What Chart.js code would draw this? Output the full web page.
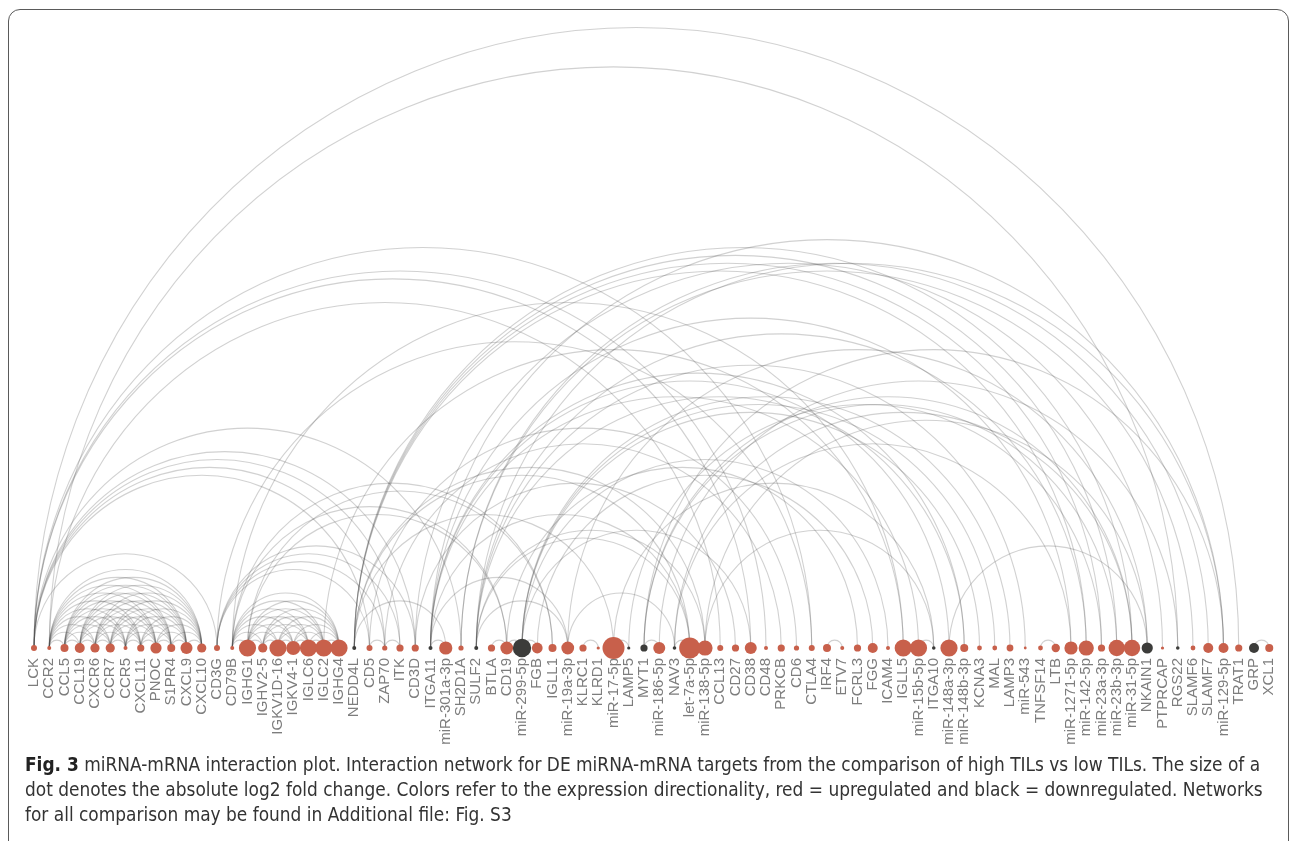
<!DOCTYPE html>
<html>
<head>
<meta charset="utf-8">
<title>miRNA-mRNA interaction plot</title>
<script src="https://cdn.jsdelivr.net/npm/chart.js@4.4.1/dist/chart.umd.min.js"></script>
<style>
  html, body { margin: 0; padding: 0; background: #fff; }
  body { width: 1295px; height: 841px; position: relative; overflow: hidden; }
  #frame { position: absolute; left: 8px; top: 9px; width: 1281px; height: 900px;
           border: 1.5px solid #5a5a5a; border-radius: 12px; box-sizing: border-box; }
  #c { position: absolute; left: 0; top: 0; }
  #caption { position: absolute; left: 25px; top: 752px; width: 1250px;
             font-family: "DejaVu Sans Condensed", "Liberation Sans", sans-serif;
             font-size: 18.9px; line-height: 25px; color: #333; white-space: nowrap; }
  #caption b { color: #222; }
</style>
</head>
<body>
<div id="frame"></div>
<canvas id="c" width="1295" height="760"></canvas>
<div id="caption"><b>Fig. 3</b> miRNA-mRNA interaction plot. Interaction network for DE miRNA-mRNA targets from the comparison of high TILs vs low TILs. The size of a<br>dot denotes the absolute log2 fold change. Colors refer to the expression directionality, red = upregulated and black = downregulated. Networks<br>for all comparison may be found in Additional file: Fig. S3</div>
<script>
// Nodes in plotting order along the axis
const nodes = [
  "LCK","CCR2","CCL5","CCL19","CXCR6","CCR7","CCR5","CXCL11","PNOC","S1PR4","CXCL9","CXCL10",
  "CD3G","CD79B","IGHG1","IGHV2-5","IGKV1D-16","IGKV4-1","IGLC6","IGLC2","IGHG4","NEDD4L",
  "CD5","ZAP70","ITK","CD3D","ITGA11","miR-301a-3p","SH2D1A","SULF2","BTLA","CD19",
  "miR-299-5p","FGB","IGLL1","miR-19a-3p","KLRC1","KLRD1","miR-17-5p","LAMP5","MYT1",
  "miR-186-5p","NAV3","let-7a-5p","miR-138-5p","CCL13","CD27","CD38","CD48","PRKCB","CD6",
  "CTLA4","IRF4","ETV7","FCRL3","FGG","ICAM4","IGLL5","miR-15b-5p","ITGA10","miR-148a-3p",
  "miR-148b-3p","KCNA3","MAL","LAMP3","miR-543","TNFSF14","LTB","miR-1271-5p","miR-142-5p",
  "miR-23a-3p","miR-23b-3p","miR-31-5p","NKAIN1","PTPRCAP","RGS22","SLAMF6","SLAMF7",
  "miR-129-5p","TRAT1","GRP","XCL1"
];

// log2 fold change (high vs low TILs); negative = downregulated
const log2FC = [
  1.5, 1.0, 2.0, 2.5, 2.3, 2.3, 1.0, 1.8, 2.8, 2.0, 3.0, 2.3,
  1.5, 1.0, 4.3, 2.3, 4.3, 3.5, 4.3, 4.3, 4.3, -1.0,
  1.5, 1.3, 1.8, 1.8, -1.0, 3.3, 1.3, -1.0, 1.8, 3.2,
  -4.6, 2.7, 2.0, 3.2, 1.8, 0.8, 5.5, -0.8, -1.8,
  3.0, -0.9, 5.3, 3.8, 1.5, 1.8, 3.0, 1.0, 1.8, 1.3,
  1.5, 2.0, 1.0, 1.8, 2.5, 1.0, 4.3, 4.3, -0.9, 4.3,
  2.0, 1.2, 1.2, 1.7, 0.7, 1.2, 2.1, 3.3, 3.8,
  1.8, 4.1, 4.1, -2.8, 0.8, -0.9, 1.2, 2.5,
  2.5, 1.8, -2.5, 2.0
];

// Chemokine / GPCR ligand-receptor interactions
const chemokineEdges = [
  ["CCR2","CCL5"],["CCR2","CCL19"],["CCR2","CXCR6"],["CCR2","CCR7"],["CCR2","CCR5"],["CCR2","CXCL11"],
  ["CCR2","PNOC"],["CCR2","S1PR4"],["CCR2","CXCL9"],["CCR2","CXCL10"],
  ["CCL5","CCL19"],["CCL5","CXCR6"],["CCL5","CCR7"],["CCL5","CCR5"],["CCL5","CXCL11"],["CCL5","PNOC"],
  ["CCL5","S1PR4"],["CCL5","CXCL9"],["CCL5","CXCL10"],
  ["CCL19","CXCR6"],["CCL19","CCR7"],["CCL19","CCR5"],["CCL19","CXCL11"],["CCL19","PNOC"],
  ["CCL19","S1PR4"],["CCL19","CXCL9"],["CCL19","CXCL10"],
  ["CXCR6","CCR7"],["CXCR6","CCR5"],["CXCR6","CXCL11"],["CXCR6","PNOC"],["CXCR6","S1PR4"],
  ["CXCR6","CXCL9"],["CXCR6","CXCL10"],
  ["CCR7","CCR5"],["CCR7","CXCL11"],["CCR7","PNOC"],["CCR7","S1PR4"],["CCR7","CXCL9"],["CCR7","CXCL10"],
  ["CCR5","CXCL11"],["CCR5","PNOC"],["CCR5","S1PR4"],["CCR5","CXCL9"],["CCR5","CXCL10"],
  ["CXCL11","PNOC"],["CXCL11","S1PR4"],["CXCL11","CXCL9"],["CXCL11","CXCL10"],
  ["PNOC","S1PR4"],["PNOC","CXCL9"],["PNOC","CXCL10"],
  ["S1PR4","CXCL9"],["S1PR4","CXCL10"],
  ["CXCL9","CXCL10"],
  ["CCR2","CCL13"],["CCR2","RGS22"]
];

// T-cell receptor signalling
const tcellEdges = [
  ["LCK","CD3G"],["LCK","CD5"],["LCK","ZAP70"],["LCK","ITK"],["LCK","CD3D"],["LCK","SH2D1A"],
  ["LCK","CD38"],["LCK","CD48"],["LCK","CTLA4"],["LCK","TRAT1"],
  ["CD3G","CD5"],["CD3G","ZAP70"],["CD3G","ITK"],["CD3G","CD3D"],["CD3G","CTLA4"],
  ["CD5","ZAP70"],["ZAP70","ITK"],["CD5","CD6"],["ZAP70","PRKCB"],["CD3D","CD27"],["CD3D","PTPRCAP"],
  ["SH2D1A","SLAMF6"],["SH2D1A","SLAMF7"]
];

// B-cell receptor and immunoglobulin genes
const bcellEdges = [
  ["CD79B","IGHG1"],["CD79B","IGHV2-5"],["CD79B","IGKV1D-16"],["CD79B","IGKV4-1"],["CD79B","IGLC6"],
  ["CD79B","IGLC2"],["CD79B","IGHG4"],
  ["IGHG1","IGHV2-5"],["IGHG1","IGKV1D-16"],["IGHG1","IGKV4-1"],["IGHG1","IGLC6"],["IGHG1","IGLC2"],["IGHG1","IGHG4"],
  ["IGHV2-5","IGKV1D-16"],["IGHV2-5","IGKV4-1"],["IGHV2-5","IGLC6"],["IGHV2-5","IGLC2"],["IGHV2-5","IGHG4"],
  ["IGKV1D-16","IGKV4-1"],["IGKV1D-16","IGLC6"],["IGKV1D-16","IGLC2"],["IGKV1D-16","IGHG4"],
  ["IGKV4-1","IGLC6"],["IGKV4-1","IGLC2"],["IGKV4-1","IGHG4"],
  ["IGLC6","IGLC2"],["IGLC6","IGHG4"],["IGLC2","IGHG4"],
  ["CD79B","CD19"],["CD79B","IGLL1"],["IGHG1","CD19"],["IGHG1","IGLL1"],["CD79B","IGLL5"],["IGLC2","IGLL5"],
  ["BTLA","CD19"],["CD19","FCRL3"]
];

// Other gene-gene interactions
const otherEdges = [
  ["KLRC1","KLRD1"],["FGB","FGG"],["IRF4","ETV7"],["TNFSF14","LTB"],["GRP","XCL1"]
];

// miRNA - target pairs
const mirnaEdges = [
  ["NEDD4L","miR-301a-3p"],["NEDD4L","miR-17-5p"],["NEDD4L","let-7a-5p"],["NEDD4L","miR-138-5p"],
  ["NEDD4L","miR-142-5p"],["NEDD4L","miR-23a-3p"],["NEDD4L","miR-23b-3p"],["NEDD4L","miR-31-5p"],
  ["ITGA11","miR-301a-3p"],["ITGA11","miR-19a-3p"],["ITGA11","let-7a-5p"],["ITGA11","miR-15b-5p"],
  ["ITGA11","miR-148a-3p"],["ITGA11","miR-148b-3p"],["ITGA11","miR-1271-5p"],["ITGA11","miR-129-5p"],
  ["SULF2","miR-19a-3p"],["SULF2","let-7a-5p"],["SULF2","miR-138-5p"],["SULF2","miR-148b-3p"],
  ["SULF2","miR-543"],["SULF2","miR-142-5p"],["SULF2","miR-129-5p"],
  ["LAMP5","miR-17-5p"],["LAMP5","miR-23a-3p"],
  ["MYT1","miR-186-5p"],["MYT1","miR-23b-3p"],["MYT1","miR-31-5p"],["MYT1","miR-129-5p"],
  ["NAV3","miR-19a-3p"],["NAV3","let-7a-5p"],["NAV3","miR-1271-5p"],["NAV3","miR-31-5p"],
  ["ITGA10","miR-15b-5p"],["ITGA10","miR-17-5p"],["ITGA10","miR-138-5p"],
  ["NKAIN1","miR-138-5p"],["NKAIN1","miR-19a-3p"],["NKAIN1","miR-148a-3p"],
  ["RGS22","miR-186-5p"],
  ["miR-299-5p","CD19"],["miR-299-5p","FGB"],["miR-299-5p","CD38"],["miR-299-5p","ICAM4"],
  ["miR-299-5p","KCNA3"],["miR-299-5p","MAL"],["miR-299-5p","LAMP3"]
];

const edges = [].concat(chemokineEdges, tcellEdges, bcellEdges, otherEdges, mirnaEdges);

const UP_COLOR = "#c8604b";
const DOWN_COLOR = "#3c3c3a";
const ARC_COLOR = "rgba(70,70,70,0.25)";
const ARC_ASPECT = 1.03;     // vertical / horizontal radius of each arc
const DOT_SCALE = 2;         // pixels of radius per unit |log2FC|

// Draws the interaction arcs underneath the dots, positioned by the chart scales
const arcPlugin = {
  id: "interactionArcs",
  beforeDatasetsDraw(chart) {
    const { ctx, scales: { x, y } } = chart;
    const base = y.getPixelForValue(0);
    ctx.save();
    ctx.strokeStyle = ARC_COLOR;
    ctx.lineWidth = 1.1;
    for (const [a, b] of edges) {
      const xa = x.getPixelForValue(nodes.indexOf(a));
      const xb = x.getPixelForValue(nodes.indexOf(b));
      const cx = (xa + xb) / 2;
      const rx = Math.abs(xb - xa) / 2;
      ctx.beginPath();
      ctx.ellipse(cx, base, rx, rx * ARC_ASPECT, 0, Math.PI, 2 * Math.PI);
      ctx.stroke();
    }
    ctx.restore();
  }
};

new Chart(document.getElementById("c"), {
  type: "bubble",
  data: {
    datasets: [{
      data: nodes.map((n, i) => ({ x: i, y: 0, r: DOT_SCALE * Math.abs(log2FC[i]) })),
      backgroundColor: log2FC.map(v => v < 0 ? DOWN_COLOR : UP_COLOR),
      borderWidth: 0,
      hoverRadius: 0,
      clip: false
    }]
  },
  options: {
    responsive: false,
    devicePixelRatio: 1,
    animation: false,
    events: [],
    layout: { padding: { left: 26.375, right: 18.125, top: 8, bottom: 8 } },
    plugins: { legend: { display: false }, tooltip: { enabled: false } },
    scales: {
      x: {
        type: "category",
        labels: nodes,
        offset: true,
        grid: { display: false, drawTicks: false },
        border: { display: false },
        afterFit(scale) { scale.height = 100; },
        ticks: {
          autoSkip: false,
          maxRotation: 90,
          minRotation: 90,
          padding: 6,
          color: "#7d7d7d",
          font: { family: "'Liberation Sans', Arial, sans-serif", size: 15 }
        }
      },
      y: {
        display: false,
        min: -4,
        max: 640
      }
    }
  },
  plugins: [arcPlugin]
});
</script>
</body>
</html>
